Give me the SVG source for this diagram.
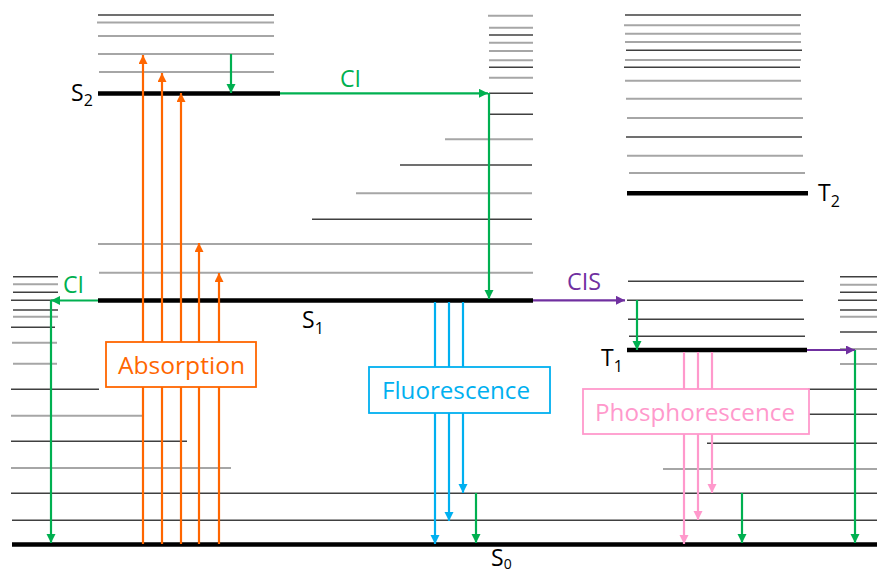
<svg xmlns="http://www.w3.org/2000/svg" width="877" height="574" viewBox="0 0 877 574">
<style>
.d{stroke:#404040;stroke-width:1.5;fill:none}
.g{stroke:#a6a6a6;stroke-width:2;fill:none}
.b{stroke:#000;stroke-width:4.5;fill:none}
.t{font-family:"Open Sans","Liberation Sans",sans-serif}
.lbl{font-family:"Open Sans","Liberation Sans",sans-serif;font-size:23px;fill:#000}
.or{stroke:#FF6600;stroke-width:2.2;fill:none;marker-end:url(#mo)}
.gr{stroke:#00B050;stroke-width:2.2;fill:none;marker-end:url(#mg)}
.pu{stroke:#7030A0;stroke-width:2.2;fill:none;marker-end:url(#mp)}
.bl{stroke:#00B0F0;stroke-width:2.2;fill:none;marker-end:url(#mb)}
.pk{stroke:#FF99CC;stroke-width:2.2;fill:none;marker-end:url(#mk)}
</style>
<defs>
<marker id="mo" markerUnits="userSpaceOnUse" markerWidth="10" markerHeight="10" refX="9" refY="4.5" orient="auto"><path d="M0,0 L9,4.5 L0,9 z" fill="#FF6600"/></marker>
<marker id="mg" markerUnits="userSpaceOnUse" markerWidth="10" markerHeight="10" refX="9" refY="4.5" orient="auto"><path d="M0,0 L9,4.5 L0,9 z" fill="#00B050"/></marker>
<marker id="mp" markerUnits="userSpaceOnUse" markerWidth="10" markerHeight="10" refX="9" refY="4.5" orient="auto"><path d="M0,0 L9,4.5 L0,9 z" fill="#7030A0"/></marker>
<marker id="mb" markerUnits="userSpaceOnUse" markerWidth="10" markerHeight="10" refX="9" refY="4.5" orient="auto"><path d="M0,0 L9,4.5 L0,9 z" fill="#00B0F0"/></marker>
<marker id="mk" markerUnits="userSpaceOnUse" markerWidth="10" markerHeight="10" refX="9" refY="4.5" orient="auto"><path d="M0,0 L9,4.5 L0,9 z" fill="#FF99CC"/></marker>
</defs>
<rect width="877" height="574" fill="#fff"/>

<g id="S2">
<line class="d" x1="98" y1="15" x2="274" y2="15"/>
<line class="g" x1="97" y1="22.5" x2="274" y2="22.5"/>
<line class="g" x1="98" y1="36" x2="274" y2="36"/>
<line class="g" x1="98" y1="54" x2="274" y2="54"/>
<line class="g" x1="99" y1="72" x2="274" y2="72"/>
<line class="b" x1="98" y1="93.5" x2="280" y2="93.5"/>
<text class="lbl" x="71" y="101">S<tspan font-size="16" dy="5">2</tspan></text>
</g>

<g id="S1">
<line class="g" x1="488" y1="15.7" x2="533" y2="15.7"/>
<line class="g" x1="489" y1="27.7" x2="533" y2="27.7"/>
<line class="d" x1="489" y1="35" x2="533" y2="35"/>
<line class="g" x1="489" y1="42.7" x2="533" y2="42.7"/>
<line class="g" x1="489" y1="51" x2="533" y2="51"/>
<line class="g" x1="489" y1="60.3" x2="533" y2="60.3"/>
<line class="d" x1="489" y1="67.3" x2="533" y2="67.3"/>
<line class="g" x1="489" y1="77.7" x2="533" y2="77.7"/>
<line class="d" x1="489" y1="93.3" x2="533" y2="93.3"/>
<line class="d" x1="490" y1="114.3" x2="533" y2="114.3"/>
<line class="g" x1="445" y1="139.3" x2="533" y2="139.3"/>
<line class="d" x1="400" y1="165" x2="532" y2="165"/>
<line class="g" x1="356" y1="193.3" x2="532" y2="193.3"/>
<line class="d" x1="312" y1="219.3" x2="532" y2="219.3"/>
<line class="g" x1="98" y1="244" x2="532" y2="244"/>
<line class="g" x1="99" y1="272.7" x2="533" y2="272.7"/>
<line class="b" x1="98" y1="300.5" x2="533" y2="300.5"/>
<text class="lbl" x="302" y="328">S<tspan font-size="16" dy="6">1</tspan></text>
</g>

<g id="T2">
<line class="d" x1="625" y1="15" x2="801" y2="15"/>
<line class="g" x1="624" y1="25.3" x2="800" y2="25.3"/>
<line class="g" x1="625" y1="33.7" x2="801" y2="33.7"/>
<line class="g" x1="625" y1="42" x2="801" y2="42"/>
<line class="d" x1="626" y1="50.3" x2="802" y2="50.3"/>
<line class="g" x1="625" y1="60" x2="801" y2="60"/>
<line class="d" x1="624" y1="67.3" x2="800" y2="67.3"/>
<line class="g" x1="625" y1="80.7" x2="801" y2="80.7"/>
<line class="g" x1="626" y1="98.7" x2="802" y2="98.7"/>
<line class="g" x1="627" y1="118" x2="803" y2="118"/>
<line class="d" x1="626" y1="137" x2="802" y2="137"/>
<line class="g" x1="627" y1="155.7" x2="803" y2="155.7"/>
<line class="g" x1="629" y1="173" x2="805" y2="173"/>
<line class="b" x1="627" y1="193.3" x2="808" y2="193.3"/>
<text class="lbl" x="818" y="201">T<tspan font-size="16" dy="6">2</tspan></text>
</g>

<g id="T1">
<line class="d" x1="628" y1="281.3" x2="804" y2="281.3"/>
<line class="d" x1="627" y1="300.3" x2="803" y2="300.3"/>
<line class="d" x1="628" y1="319.3" x2="804" y2="319.3"/>
<line class="d" x1="629" y1="336.3" x2="805" y2="336.3"/>
<line class="b" x1="627" y1="350" x2="807" y2="350"/>
<text class="lbl" x="601" y="366">T<tspan font-size="16" dy="6">1</tspan></text>
</g>

<g id="T1-side">
<line class="d" x1="840" y1="276.7" x2="877" y2="276.7"/>
<line class="g" x1="840" y1="284.7" x2="877" y2="284.7"/>
<line class="d" x1="840" y1="292.3" x2="877" y2="292.3"/>
<line class="d" x1="838" y1="300.3" x2="877" y2="300.3"/>
<line class="d" x1="840" y1="310" x2="877" y2="310"/>
<line class="g" x1="840" y1="316.7" x2="877" y2="316.7"/>
<line class="d" x1="840" y1="332" x2="877" y2="332"/>
<line class="g" x1="840" y1="349" x2="877" y2="349"/>
<line class="g" x1="840" y1="364" x2="877" y2="364"/>
</g>

<g id="S1-side">
<line class="d" x1="13" y1="276.7" x2="58" y2="276.7"/>
<line class="g" x1="13" y1="284.3" x2="58" y2="284.3"/>
<line class="d" x1="13" y1="292.3" x2="58" y2="292.3"/>
<line class="d" x1="11" y1="300.3" x2="58" y2="300.3"/>
<line class="d" x1="13" y1="310" x2="58" y2="310"/>
<line class="g" x1="13" y1="316.7" x2="58" y2="316.7"/>
<line class="d" x1="11" y1="327.3" x2="55" y2="327.3"/>
<line class="g" x1="12" y1="342.7" x2="57" y2="342.7"/>
<line class="g" x1="13" y1="363.7" x2="57" y2="363.7"/>
</g>

<g id="S0">
<line class="d" x1="11" y1="389.2" x2="99" y2="389.2"/>
<line class="g" x1="11" y1="415.7" x2="142" y2="415.7"/>
<line class="d" x1="11" y1="441.3" x2="187" y2="441.3"/>
<line class="g" x1="11" y1="468" x2="231" y2="468"/>
<line class="d" x1="808" y1="389.2" x2="877" y2="389.2"/>
<line class="d" x1="808" y1="414.3" x2="877" y2="414.3"/>
<line class="d" x1="707" y1="443.3" x2="877" y2="443.3"/>
<line class="g" x1="663" y1="469" x2="877" y2="469"/>
<line class="d" x1="11" y1="493.3" x2="877" y2="493.3"/>
<line class="d" x1="12" y1="520.2" x2="877" y2="520.2"/>
<line class="b" x1="12" y1="544.5" x2="877" y2="544.5"/>
<text class="lbl" x="491" y="566" font-size="21">S<tspan font-size="14" dy="3">0</tspan></text>
</g>

<g id="connectors">
<line class="or" x1="143" y1="544" x2="143" y2="55"/>
<line class="or" x1="162" y1="544" x2="162" y2="73"/>
<line class="or" x1="181" y1="544" x2="181" y2="93"/>
<line class="or" x1="199" y1="544" x2="199" y2="243"/>
<line class="or" x1="219" y1="544" x2="219" y2="273"/>
<line class="gr" x1="231" y1="54" x2="231" y2="93"/>
<line class="gr" x1="280" y1="93.3" x2="488" y2="93.3"/>
<line class="gr" x1="489" y1="93" x2="489" y2="299"/>
<line class="gr" x1="98" y1="300.5" x2="51" y2="300.5"/>
<line class="gr" x1="51" y1="300" x2="51" y2="543"/>
<line class="gr" x1="637" y1="300" x2="637" y2="350"/>
<line class="gr" x1="476" y1="493" x2="476" y2="543"/>
<line class="gr" x1="742" y1="493" x2="742" y2="543"/>
<line class="gr" x1="855" y1="350" x2="855" y2="543"/>
<line class="pu" x1="533" y1="300.3" x2="625" y2="300.3"/>
<line class="pu" x1="807" y1="350" x2="855" y2="350"/>
<line class="bl" x1="435" y1="302" x2="435" y2="544"/>
<line class="bl" x1="449" y1="302" x2="449" y2="521"/>
<line class="bl" x1="463" y1="302" x2="463" y2="493"/>
<line class="pk" x1="684" y1="352" x2="684" y2="544"/>
<line class="pk" x1="698" y1="352" x2="698" y2="520"/>
<line class="pk" x1="712" y1="352" x2="712" y2="493"/>
<text class="t" x="340" y="87" font-size="23" fill="#00B050" textLength="21" lengthAdjust="spacingAndGlyphs">CI</text>
<text class="t" x="63" y="293" font-size="23" fill="#00B050" textLength="21" lengthAdjust="spacingAndGlyphs">CI</text>
<text class="t" x="567" y="290" font-size="23" fill="#7030A0" textLength="34" lengthAdjust="spacingAndGlyphs">CIS</text>
</g>

<g id="absorption">
<rect x="106" y="342" width="150" height="45" fill="#fff" stroke="#FF6600" stroke-width="1.8"/>
<text class="t" x="118" y="373.5" font-size="23" fill="#FF6600" textLength="127" lengthAdjust="spacingAndGlyphs">Absorption</text>
</g>

<g id="fluorescence">
<rect x="369" y="367" width="181" height="46" fill="#fff" stroke="#00B0F0" stroke-width="1.8"/>
<text class="t" x="382" y="399" font-size="23" fill="#00B0F0" textLength="148" lengthAdjust="spacingAndGlyphs">Fluorescence</text>
</g>

<g id="phosphorescence">
<rect x="583" y="389" width="226" height="45" fill="#fff" stroke="#FF99CC" stroke-width="1.8"/>
<text class="t" x="595" y="421" font-size="23" fill="#FF99CC" textLength="200" lengthAdjust="spacingAndGlyphs">Phosphorescence</text>
</g>
</svg>
